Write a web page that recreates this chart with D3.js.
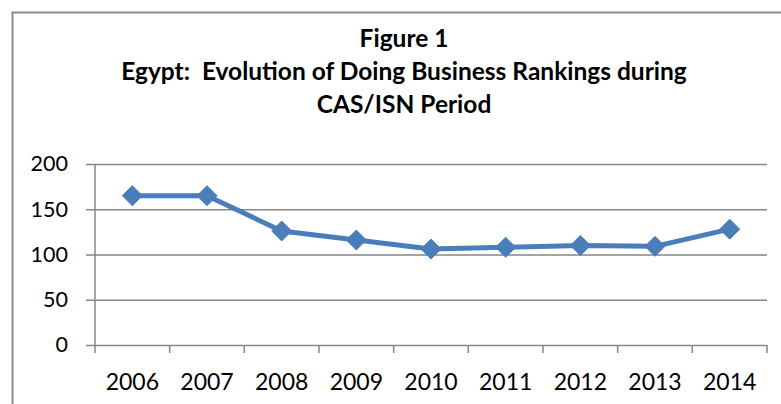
<!DOCTYPE html>
<html>
<head>
<meta charset="utf-8">
<script src="https://cdn.jsdelivr.net/npm/d3@7"></script>
<style>
  html, body { margin: 0; padding: 0; background: #fff; }
  svg { display: block; font-family: Lato, "Open Sans", sans-serif; }
</style>
</head>
<body>
<svg id="chart" width="781" height="404"></svg>
<script>

const titleLines = [
  'Figure 1',
  'Egypt:  Evolution of Doing Business Rankings during',
  'CAS/ISN Period'
];
const years = ['2006', '2007', '2008', '2009', '2010', '2011', '2012', '2013', '2014'];
const rankings = [165, 165, 126, 116, 106, 108, 110, 109, 128];
const yTicks = [0, 50, 100, 150, 200];


/**
 * @private
 * @class
 */
class LineChart {


  /**
   * @public
   * @constructor
   * @param {SVGElement} svg
   */
  constructor(svg) {

    this._svg = d3.select(svg);
    this._left = 95;
    this._right = 767;
    this._top = 164;
    this._bottom = 345;

    this._xScale = d3.scaleBand()
      .domain(years)
      .range([this._left, this._right]);

    this._yScale = d3.scaleLinear()
      .domain([0, 200])
      .range([this._bottom, this._top]);
  }


  /**
   * Render frame and title.
   * @public
   * @returns {LineChart}
   */
  renderFrame() {

    this._svg.append('path')
      .attr('d', 'M12.5,420 V12.5 H790')
      .style('fill', 'none')
      .style('stroke', '#8c8c8c')
      .style('stroke-width', 2);

    this._svg.append('g')
      .selectAll('text')
      .data(titleLines)
      .join('text')
      .attr('x', 404)
      .attr('y', (d, i) => 47 + i * 33)
      .attr('text-anchor', 'middle')
      .style('white-space', 'pre')
      .style('font-weight', 'bold')
      .style('font-size', '24.5px')
      .style('fill', '#000')
      .text(d => d);

    return this;
  }


  /**
   * Render axes and gridlines.
   * @public
   * @returns {LineChart}
   */
  renderAxes() {

    const yAxis = d3.axisLeft(this._yScale)
      .tickValues(yTicks)
      .tickSize(-(this._right - this._left) - 9)
      .tickPadding(9)
      .tickFormat(d3.format('d'));

    const yg = this._svg.append('g')
      .attr('transform', `translate(${this._left - 9},0)`)
      .call(yAxis);

    yg.select('.domain').remove();
    yg.selectAll('.tick line')
      .attr('x1', 0)
      .attr('x2', this._right - this._left + 9)
      .style('stroke', '#868686')
      .style('stroke-width', 1.5);
    yg.selectAll('.tick text')
      .attr('x', -18)
      .style('font-family', 'Lato, sans-serif')
      .style('font-size', '21.5px')
      .style('fill', '#000');

    // vertical axis line
    this._svg.append('line')
      .attr('x1', this._left)
      .attr('x2', this._left)
      .attr('y1', this._top)
      .attr('y2', this._bottom)
      .style('stroke', '#868686')
      .style('stroke-width', 1.5);

    // category boundary ticks
    const bounds = years.map(d => this._xScale(d)).concat([this._right]);

    this._svg.append('g')
      .selectAll('line')
      .data(bounds)
      .join('line')
      .attr('x1', d => d)
      .attr('x2', d => d)
      .attr('y1', this._bottom)
      .attr('y2', this._bottom + 8)
      .style('stroke', '#868686')
      .style('stroke-width', 1.5);

    this._svg.append('g')
      .selectAll('text')
      .data(years)
      .join('text')
      .attr('x', d => this._xScale(d) + this._xScale.bandwidth() / 2)
      .attr('y', 390)
      .attr('text-anchor', 'middle')
      .style('font-size', '23px')
      .style('fill', '#000')
      .text(d => d);

    return this;
  }


  /**
   * Render series line and markers.
   * @public
   * @returns {LineChart}
   */
  renderSeries() {

    const cx = (d, i) => this._xScale(years[i]) + this._xScale.bandwidth() / 2;
    const cy = d => this._yScale(d);

    const line = d3.line()
      .x(cx)
      .y(cy);

    this._svg.append('path')
      .datum(rankings)
      .attr('d', line)
      .style('fill', 'none')
      .style('stroke', '#4a7ebb')
      .style('stroke-width', 5)
      .style('stroke-linejoin', 'round');

    const r = 10;

    this._svg.append('g')
      .selectAll('path')
      .data(rankings)
      .join('path')
      .attr('transform', (d, i) => `translate(${cx(d, i)},${cy(d)})`)
      .attr('d', `M0,${-r} L${r},0 L0,${r} L${-r},0 Z`)
      .style('fill', '#4a7ebb')
      .style('stroke', '#4a7ebb')
      .style('stroke-width', 1);

    return this;
  }
}


new LineChart(document.getElementById('chart'))
  .renderFrame()
  .renderAxes()
  .renderSeries();

</script>
</body>
</html>
